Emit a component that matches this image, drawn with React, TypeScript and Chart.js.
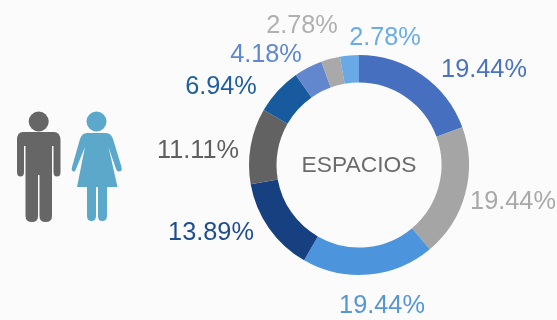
import React, { useEffect, useRef } from "react";
import { Chart, registerables } from "chart.js";

Chart.register(...registerables);

const categories = ["A", "B", "C", "D", "E", "F", "G", "H", "I"];
const shares = [19.44, 19.44, 19.44, 13.89, 11.11, 6.94, 4.18, 2.78, 2.78];
const percentLabels = ["19.44%", "19.44%", "19.44%", "13.89%", "11.11%", "6.94%", "4.18%", "2.78%", "2.78%"];
const sliceColors = ["#4670bf", "#a5a5a5", "#4c95dc", "#16407f", "#626262", "#175b9e", "#6287cf", "#a9a9a9", "#69a9e6"];
const labelColors = ["#4a72c0", "#a9a9a9", "#5596d6", "#1f4d90", "#5f5f5f", "#1f5f9f", "#5f88d0", "#b0b0b0", "#69ade8"];
const labelOffsets = [
  [125, -95],
  [154, 37],
  [23, 141],
  [-148, 68],
  [-161, -14],
  [-138, -78],
  [-93, -110],
  [-57, -139],
  [26, -127],
];

const pageBackground = "#fbfbfb";

const decorPlugin = {
  id: "decor",
  beforeDraw(chart: any) {
    const c = chart.ctx;
    c.save();
    c.fillStyle = pageBackground;
    c.fillRect(0, 0, chart.width, chart.height);

    c.fillStyle = "#666666";
    c.beginPath();
    c.arc(38.7, 121.5, 10, 0, Math.PI * 2);
    c.fill();
    c.fill(new Path2D(
      "M23 132 H54 Q60 132 60.5 140 V172 Q60.5 176.5 57 176.5 Q53.5 176.5 53.5 172 V146 H52 V216 Q52 222 45.5 222 Q39.5 222 39.5 216 V175 H38 V216 Q38 222 32 222 Q25.5 222 25.5 216 V146 H24 V172 Q24 176.5 20.5 176.5 Q17 176.5 17 172 V140 Q17 132 23 132 Z"
    ));

    c.fillStyle = "#5ba8cb";
    c.beginPath();
    c.arc(96.5, 121.5, 10, 0, Math.PI * 2);
    c.fill();
    c.fill(new Path2D(
      "M87 133 H106 Q111 133 113 139 L121.5 167 Q122.5 171 119.5 171.5 Q117 172 116 169 L108.5 147 L117.5 187 H107 V216 Q107 221 102 221 Q98 221 98 216 V187 H96 V216 Q96 221 91.5 221 Q87 221 87 216 V187 H77 L85 147 L76 169 Q75 172 73.5 171.5 Q71 171 72 167 L80 139 Q82 133 87 133 Z"
    ));
    c.restore();
  },
  afterDraw(chart: any) {
    const c = chart.ctx;
    const arcs = chart.getDatasetMeta(0).data;
    const cx = arcs[0].x;
    const cy = arcs[0].y;
    c.save();
    c.textAlign = "center";
    c.textBaseline = "middle";
    c.font = "25.3px 'Liberation Sans'";
    percentLabels.forEach((text, i) => {
      c.fillStyle = labelColors[i];
      c.fillText(text, cx + labelOffsets[i][0], cy + labelOffsets[i][1]);
    });
    c.fillStyle = "#6b6b6b";
    c.font = "22.8px 'Liberation Sans'";
    c.fillText("ESPACIOS", cx, cy + 1);
    c.restore();
  },
};

export default function App() {
  const ref = useRef<HTMLCanvasElement>(null);
  useEffect(() => {
    const chart = new Chart(ref.current!, {
      type: "doughnut",
      data: {
        labels: categories,
        datasets: [{ data: shares, backgroundColor: sliceColors, borderWidth: 0 }],
      },
      options: {
        animation: false,
        responsive: false,
        cutout: "75%",
        layout: { padding: { left: 249, right: 88, top: 55, bottom: 45 } },
        plugins: { legend: { display: false }, tooltip: { enabled: false } },
      },
      plugins: [decorPlugin],
    });
    return () => chart.destroy();
  }, []);
  return (
    <canvas
      ref={ref}
      width={557}
      height={320}
      style={{ position: "fixed", left: 0, top: 0, width: 557, height: 320, display: "block" }}
    />
  );
}
